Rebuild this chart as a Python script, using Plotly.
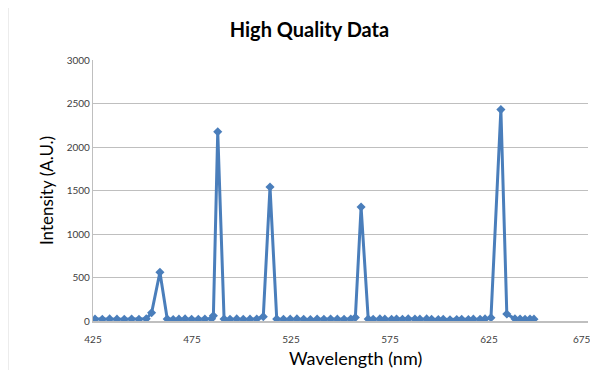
import plotly.graph_objects as go

wavelength = [426.0, 429.7, 433.4, 437.1, 440.8, 444.5, 448.2, 451.9, 454.6, 458.8,
              462.5, 465.5, 468.4, 471.5, 474.8, 478.2, 481.5, 484.9, 485.8, 488.0,
              491.2, 494.2, 497.6, 500.9, 504.3, 507.7, 511.0, 514.4,
              517.8, 521.2, 524.6, 528.0, 531.4, 534.8, 538.2, 541.6, 545.0, 548.4,
              551.8, 555.2, 557.5, 560.4,
              564.0, 566.5, 569.9, 572.4, 575.8, 578.3, 581.3, 584.2, 587.6, 590.1,
              593.5, 596.0, 599.4, 601.9, 605.3, 608.7, 611.2, 614.6, 617.1, 620.5,
              623.0, 626.0, 631.0,
              634.0, 638.1, 640.7, 643.2, 645.7, 647.7]
intensity = [22, 20, 24, 21, 19, 23, 20, 25, 95, 560,
             22, 18, 21, 24, 20, 19, 23, 26, 60, 2175,
             22, 20, 24, 19, 21, 23, 50, 1540,
             22, 19, 21, 24, 20, 18, 22, 20, 23, 21,
             19, 22, 40, 1310,
             22, 20, 24, 21, 19, 23, 20, 25, 22, 21,
             24, 20, 18, 19, 15, 17, 20, 16, 21, 19,
             24, 38, 2430,
             80, 25, 22, 20, 23, 21]

x_ticks = [425, 475, 525, 575, 625, 675]
y_ticks = [0, 500, 1000, 1500, 2000, 2500, 3000]

H = 362
fig = go.Figure()
fig.add_trace(go.Scatter(
    x=wavelength, y=intensity, mode="lines+markers",
    line=dict(color="#4a7ebb", width=3),
    marker=dict(symbol="diamond", size=7, color="#4a7ebb"),
    showlegend=False,
))

# last tick label drawn as annotation so it stays inside the visible page
x_ticktext = [str(t) for t in x_ticks[:-1]] + [""]

fig.update_layout(
    width=590, height=H,
    margin=dict(l=85, r=10, t=52, b=H - 313),
    paper_bgcolor="white", plot_bgcolor="white",
    title=dict(text="<b>High Quality Data</b>", x=0.511, xanchor="center",
               y=1 - 22 / H, yanchor="middle",
               font=dict(family="Lato", size=20, color="black")),
    font=dict(family="Lato", color="#404040"),
    xaxis=dict(range=[425, 675], tickvals=x_ticks, ticktext=x_ticktext,
               showgrid=False, zeroline=False, showline=True, linecolor="#bfbfbf",
               linewidth=1.5, ticks="", ticklabelstandoff=8, automargin=False,
               tickfont=dict(size=10, color="#404040")),
    yaxis=dict(range=[0, 3000], tickvals=y_ticks, ticktext=[str(t) for t in y_ticks],
               showgrid=True, gridcolor="#bfbfbf", gridwidth=1.2, zeroline=False,
               showline=True, linecolor="#bfbfbf", linewidth=1.2, ticks="",
               ticklabelstandoff=0, automargin=False,
               tickfont=dict(size=10, color="#404040"),
               title=dict(text="Intensity (A.U.)", font=dict(size=17, color="black"), standoff=8)),
    annotations=[
        dict(text="Wavelength (nm)", xref="paper", yref="paper",
             x=0.531, y=-0.142, xanchor="center", yanchor="middle",
             showarrow=False, font=dict(size=18, color="black", family="Lato")),
        dict(text=str(x_ticks[-1]), xref="x", yref="paper",
             x=x_ticks[-1], y=-0.069, xanchor="right", yanchor="middle", xshift=5,
             showarrow=False, font=dict(size=10, color="#404040", family="Lato")),
    ],
    shapes=[dict(type="rect", xref="paper", yref="paper",
                 x0=-0.1717, x1=1.016, y0=-0.22, y1=1.226,
                 line=dict(color="#d9d9d9", width=1), fillcolor="rgba(0,0,0,0)", layer="below")],
)

fig.write_html("out.html")
